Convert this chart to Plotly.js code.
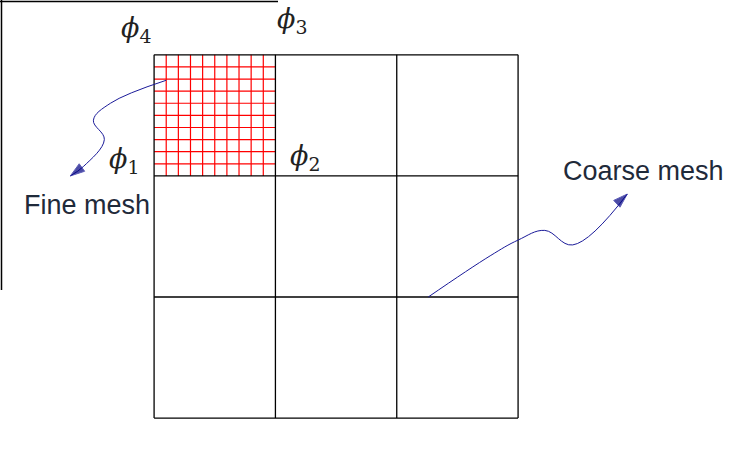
<!DOCTYPE html>
<html>
<head>
<meta charset="utf-8">
<script src="https://cdn.plot.ly/plotly-3.0.1.min.js"></script>
<style>
  html, body { margin: 0; padding: 0; background: #fff; }
  #mesh { width: 748px; height: 458px; }
</style>
</head>
<body>
<div id="mesh"></div>
<script>
// coarse 3x3 mesh, fine 10x10 refinement in the top-left coarse cell
const coarseLines = [0, 1, 2, 3];
const fineX = [0.1, 0.2, 0.3, 0.4, 0.5, 0.6, 0.7, 0.8, 0.9];
const fineY = [2.1, 2.2, 2.3, 2.4, 2.5, 2.6, 2.7, 2.8, 2.9];
const fineCell = { x: [0, 1], y: [2, 3] };

// hand-drawn pointer curves (mesh units)
const fineArrowX = [0.10, -0.36, -0.50, -0.41, -0.58, -0.69];
const fineArrowY = [2.79, 2.60, 2.46, 2.30, 2.08, 2.00];
const coarseArrowX = [2.26, 2.77, 3.00, 3.22, 3.45, 3.90];
const coarseArrowY = [1.00, 1.34, 1.47, 1.55, 1.43, 1.85];

const labels = [
  { text: '<i>ϕ</i><sub>4</sub>', x: -0.15, y: 3.21 },
  { text: '<i>ϕ</i><sub>3</sub>', x: 1.14, y: 3.28 },
  { text: '<i>ϕ</i><sub>1</sub>', x: -0.25, y: 2.13 },
  { text: '<i>ϕ</i><sub>2</sub>', x: 1.24, y: 2.15 }
];
const captions = [
  { text: 'Fine mesh', x: -0.55, y: 1.76 },
  { text: 'Coarse mesh', x: 4.03, y: 2.04 }
];

function gridTrace(xs, ys, color, width) {
  return {
    type: 'scatter', mode: 'lines', x: xs, y: ys,
    line: { color: color, width: width },
    hoverinfo: 'skip', showlegend: false
  };
}

const traces = [];
// fine red grid
const fx = [], fy = [];
fineX.forEach(v => { fx.push(v, v, null); fy.push(fineCell.y[0], fineCell.y[1], null); });
fineY.forEach(v => { fx.push(fineCell.x[0], fineCell.x[1], null); fy.push(v, v, null); });
traces.push(gridTrace(fx, fy, '#ff0000', 1.2));

// coarse black grid
const cx = [], cy = [];
const lo = coarseLines[0], hi = coarseLines[coarseLines.length - 1];
coarseLines.forEach(v => { cx.push(v, v, null); cy.push(lo, hi, null); });
coarseLines.forEach(v => { cx.push(lo, hi, null); cy.push(v, v, null); });
traces.push(gridTrace(cx, cy, '#000000', 1.3));

// pointer curves with arrow heads
[[fineArrowX, fineArrowY], [coarseArrowX, coarseArrowY]].forEach(([ax, ay]) => {
  traces.push({
    type: 'scatter', mode: 'lines+markers', x: ax, y: ay,
    line: { color: '#1a1a99', width: 1, shape: 'spline', smoothing: 1.1 },
    marker: {
      color: '#000080', size: ax.map((_, i) => i === ax.length - 1 ? 15 : 0),
      symbol: 'arrow', angleref: 'previous'
    },
    hoverinfo: 'skip', showlegend: false
  });
});

const annotations = labels.map(l => ({
  text: l.text, x: l.x, y: l.y, xref: 'x', yref: 'y', showarrow: false,
  font: { family: 'DejaVu Serif', size: 27, color: '#222' }
})).concat(captions.map(c => ({
  text: c.text, x: c.x, y: c.y, xref: 'x', yref: 'y', showarrow: false,
  font: { family: 'Liberation Sans, Arial', size: 27, color: '#1f2a3a' }
})));

const layout = {
  width: 748, height: 458,
  paper_bgcolor: '#fff', plot_bgcolor: '#fff',
  margin: { l: 0, r: 0, t: 0, b: 0 },
  xaxis: { range: [-1.27, 4.895], visible: false, fixedrange: true },
  yaxis: { range: [-0.33, 3.453], visible: false, fixedrange: true },
  shapes: [
    { type: 'line', xref: 'paper', yref: 'paper', x0: 1.5 / 748, x1: 1.5 / 748, y0: 1, y1: 1 - 290 / 458, line: { color: '#000', width: 1.5 } },
    { type: 'line', xref: 'paper', yref: 'paper', x0: 0, x1: 278 / 748, y0: 1 - 1.5 / 458, y1: 1 - 1.5 / 458, line: { color: '#000', width: 1.5 } }
  ],
  annotations: annotations,
  showlegend: false
};

Plotly.newPlot('mesh', traces, layout, { displayModeBar: false, staticPlot: true });
</script>
</body>
</html>
